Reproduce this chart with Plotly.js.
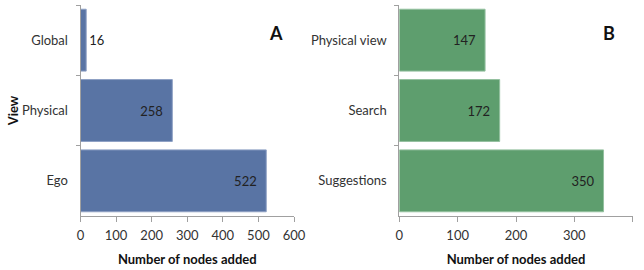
<!DOCTYPE html>
<html><head><meta charset="utf-8">
<script src="https://cdn.plot.ly/plotly-3.0.1.min.js"></script>
<style>html,body{margin:0;padding:0;background:#fff}#c{width:644px;height:270px}</style>
</head><body><div id="c"></div>
<script>
const viewCats = ["Global", "Physical", "Ego"];
const viewVals = [16, 258, 522];
const sourceCats = ["Physical view", "Search", "Suggestions"];
const sourceVals = [147, 172, 350];
const xTicksA = [0, 100, 200, 300, 400, 500, 600];
const xTicksB = [0, 100, 200, 300, 400];

const FONT = "Lato, 'Open Sans', sans-serif";
const axisCol = "#a0a0a0";
const pad = "\u2002";

const traces = [
  {type:"bar", orientation:"h", x:viewVals, y:viewCats, xaxis:"x", yaxis:"y",
   marker:{color:"#5974a4", line:{color:"#8ea0c4", width:1}},
   text:viewVals.map(v=>v<50?String(v):String(v)+pad), textposition:viewVals.map(v=>v<50?"outside":"inside"),
   insidetextanchor:"end", cliponaxis:false,
   textfont:{family:FONT, size:13, color:"#222"}, hoverinfo:"none"},
  {type:"bar", orientation:"h", x:sourceVals, y:sourceCats, xaxis:"x2", yaxis:"y2",
   marker:{color:"#5e9e6e", line:{color:"#94c09f", width:1}},
   text:sourceVals.map(v=>String(v)+pad), textposition:"inside",
   insidetextanchor:"end", cliponaxis:false,
   textfont:{family:FONT, size:13, color:"#222"}, hoverinfo:"none"}
];

function xax(domain, rng, ticks, anchor){
  return {domain:domain, range:rng, tickvals:ticks, ticktext:ticks.map(String), anchor:anchor,
    showgrid:false, zeroline:false, showline:true, linecolor:axisCol, linewidth:1,
    ticks:"outside", ticklen:5, tickcolor:axisCol,
    tickfont:{family:FONT, size:13, color:"#333"}, ticklabelstandoff:2,
    title:{text:"<b>Number of nodes added</b>", font:{family:FONT, size:13, color:"#111"}, standoff:13},
    automargin:false, fixedrange:true};
}
function yax(domain, anchor, title){
  return {domain:domain, anchor:anchor, type:"category", autorange:"reversed",
    showgrid:false, zeroline:false, showline:true, linecolor:axisCol, linewidth:1,
    ticks:"outside", tickson:"boundaries", ticklen:4, tickcolor:axisCol,
    tickfont:{family:FONT, size:13, color:"#333"}, ticklabelstandoff:9,
    title:{text:title, font:{family:FONT, size:13, color:"#111"}, standoff:0},
    automargin:false, fixedrange:true};
}

const layout = {
  width:644, height:270, margin:{l:0, r:0, t:0, b:0},
  paper_bgcolor:"#fff", plot_bgcolor:"#fff", showlegend:false,
  bargap:0.12,
  xaxis: xax([80.5/644, 294/644], [0, 600], xTicksA, "y"),
  yaxis: yax([1-216/270, 1-5/270], "x", "<b>View</b>"),
  xaxis2: xax([399.3/644, 632.7/644], [0, 400], xTicksB, "y2"),
  yaxis2: yax([1-216/270, 1-5/270], "x2", ""),
  annotations:[
    {text:"<b>A</b>", x:276/644, y:1-20/270, xref:"paper", yref:"paper", showarrow:false,
     font:{family:FONT, size:18, color:"#111"}},
    {text:"<b>B</b>", x:617/644, y:1-20/270, xref:"paper", yref:"paper", showarrow:false,
     font:{family:FONT, size:18, color:"#111"}}
  ]
};
Plotly.newPlot("c", traces, layout, {displayModeBar:false, staticPlot:true});
</script></body></html>
